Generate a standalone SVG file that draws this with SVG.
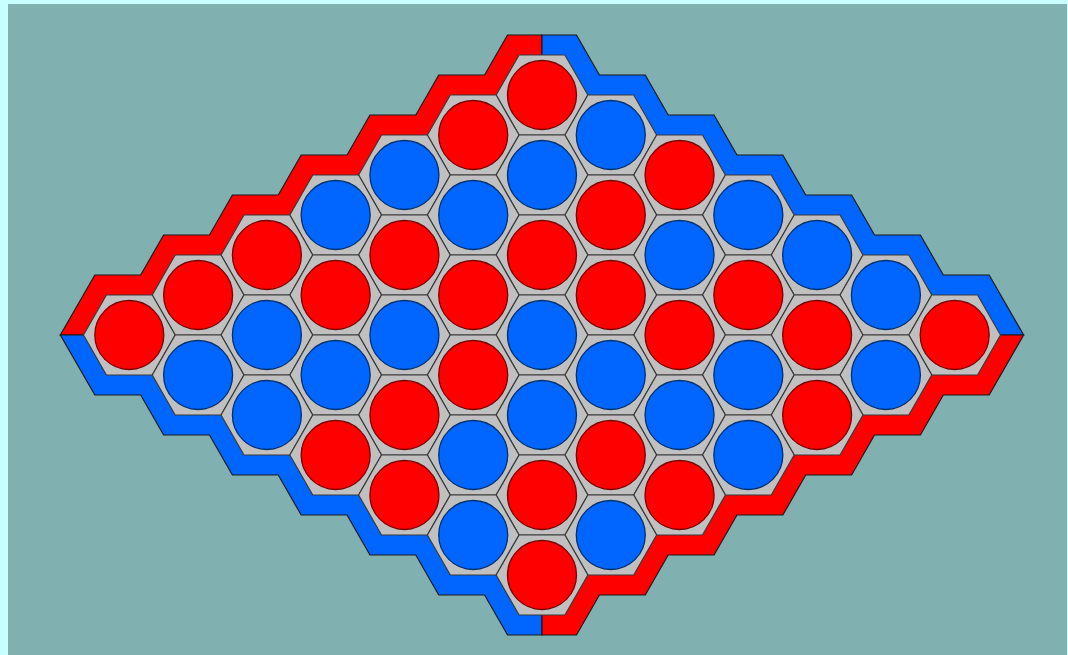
<svg xmlns="http://www.w3.org/2000/svg" xmlns:xlink="http://www.w3.org/1999/xlink" width="1068" height="655" viewBox="0 0 1068 655">
<style>
.edge{stroke:#1a1a1a;stroke-width:1.2;stroke-linejoin:miter}
.hex{fill:#c0c0c0;stroke:#3a3a3a;stroke-width:1.2}
.r{fill:#ff0000;stroke:#7a0000;stroke-width:1.3}
.b{fill:#0066ff;stroke:#00306e;stroke-width:1.3}
</style>
<defs>
<polygon id="quad" points="542,335 60.38,335 94.84,275 140.70,275 163.62,235 209.48,235 232.40,195 278.26,195 301.18,155 347.04,155 369.96,115 415.82,115 438.74,75 484.60,75 507.52,35 542,35"/>
<polygon id="hex" class="hex" points="-45.85,0 -22.93,-40 22.93,-40 45.85,0 22.93,40 -22.93,40"/>
</defs>
<rect x="0" y="0" width="1068" height="655" fill="#c8ffff"/>
<rect x="8" y="4" width="1059" height="651" fill="#80b0b0"/>
<g id="border">
<use href="#quad" class="edge" fill="#ff0000"/>
<use href="#quad" class="edge" fill="#0066ff" transform="translate(1084,0) scale(-1,1)"/>
<use href="#quad" class="edge" fill="#0066ff" transform="translate(0,670) scale(1,-1)"/>
<use href="#quad" class="edge" fill="#ff0000" transform="translate(1084,670) scale(-1,-1)"/>
</g>
<g id="cells">
<g id="c0-0"><use href="#hex" x="542" y="95"/><circle class="r" cx="542" cy="95" r="34.5"/></g>

<g id="c1-0"><use href="#hex" x="473.22" y="135"/><circle class="r" cx="473.22" cy="135" r="34.5"/></g>
<g id="c0-1"><use href="#hex" x="610.78" y="135"/><circle class="b" cx="610.78" cy="135" r="34.5"/></g>

<g id="c2-0"><use href="#hex" x="404.44" y="175"/><circle class="b" cx="404.44" cy="175" r="34.5"/></g>
<g id="c1-1"><use href="#hex" x="542" y="175"/><circle class="b" cx="542" cy="175" r="34.5"/></g>
<g id="c0-2"><use href="#hex" x="679.56" y="175"/><circle class="r" cx="679.56" cy="175" r="34.5"/></g>

<g id="c3-0"><use href="#hex" x="335.66" y="215"/><circle class="b" cx="335.66" cy="215" r="34.5"/></g>
<g id="c2-1"><use href="#hex" x="473.22" y="215"/><circle class="b" cx="473.22" cy="215" r="34.5"/></g>
<g id="c1-2"><use href="#hex" x="610.78" y="215"/><circle class="r" cx="610.78" cy="215" r="34.5"/></g>
<g id="c0-3"><use href="#hex" x="748.34" y="215"/><circle class="b" cx="748.34" cy="215" r="34.5"/></g>

<g id="c4-0"><use href="#hex" x="266.88" y="255"/><circle class="r" cx="266.88" cy="255" r="34.5"/></g>
<g id="c3-1"><use href="#hex" x="404.44" y="255"/><circle class="r" cx="404.44" cy="255" r="34.5"/></g>
<g id="c2-2"><use href="#hex" x="542" y="255"/><circle class="r" cx="542" cy="255" r="34.5"/></g>
<g id="c1-3"><use href="#hex" x="679.56" y="255"/><circle class="b" cx="679.56" cy="255" r="34.5"/></g>
<g id="c0-4"><use href="#hex" x="817.12" y="255"/><circle class="b" cx="817.12" cy="255" r="34.5"/></g>

<g id="c5-0"><use href="#hex" x="198.10" y="295"/><circle class="r" cx="198.10" cy="295" r="34.5"/></g>
<g id="c4-1"><use href="#hex" x="335.66" y="295"/><circle class="r" cx="335.66" cy="295" r="34.5"/></g>
<g id="c3-2"><use href="#hex" x="473.22" y="295"/><circle class="r" cx="473.22" cy="295" r="34.5"/></g>
<g id="c2-3"><use href="#hex" x="610.78" y="295"/><circle class="r" cx="610.78" cy="295" r="34.5"/></g>
<g id="c1-4"><use href="#hex" x="748.34" y="295"/><circle class="r" cx="748.34" cy="295" r="34.5"/></g>
<g id="c0-5"><use href="#hex" x="885.90" y="295"/><circle class="b" cx="885.90" cy="295" r="34.5"/></g>

<g id="c6-0"><use href="#hex" x="129.32" y="335"/><circle class="r" cx="129.32" cy="335" r="34.5"/></g>
<g id="c5-1"><use href="#hex" x="266.88" y="335"/><circle class="b" cx="266.88" cy="335" r="34.5"/></g>
<g id="c4-2"><use href="#hex" x="404.44" y="335"/><circle class="b" cx="404.44" cy="335" r="34.5"/></g>
<g id="c3-3"><use href="#hex" x="542" y="335"/><circle class="b" cx="542" cy="335" r="34.5"/></g>
<g id="c2-4"><use href="#hex" x="679.56" y="335"/><circle class="r" cx="679.56" cy="335" r="34.5"/></g>
<g id="c1-5"><use href="#hex" x="817.12" y="335"/><circle class="r" cx="817.12" cy="335" r="34.5"/></g>
<g id="c0-6"><use href="#hex" x="954.68" y="335"/><circle class="r" cx="954.68" cy="335" r="34.5"/></g>

<g id="c6-1"><use href="#hex" x="198.10" y="375"/><circle class="b" cx="198.10" cy="375" r="34.5"/></g>
<g id="c5-2"><use href="#hex" x="335.66" y="375"/><circle class="b" cx="335.66" cy="375" r="34.5"/></g>
<g id="c4-3"><use href="#hex" x="473.22" y="375"/><circle class="r" cx="473.22" cy="375" r="34.5"/></g>
<g id="c3-4"><use href="#hex" x="610.78" y="375"/><circle class="b" cx="610.78" cy="375" r="34.5"/></g>
<g id="c2-5"><use href="#hex" x="748.34" y="375"/><circle class="b" cx="748.34" cy="375" r="34.5"/></g>
<g id="c1-6"><use href="#hex" x="885.90" y="375"/><circle class="b" cx="885.90" cy="375" r="34.5"/></g>

<g id="c6-2"><use href="#hex" x="266.88" y="415"/><circle class="b" cx="266.88" cy="415" r="34.5"/></g>
<g id="c5-3"><use href="#hex" x="404.44" y="415"/><circle class="r" cx="404.44" cy="415" r="34.5"/></g>
<g id="c4-4"><use href="#hex" x="542" y="415"/><circle class="b" cx="542" cy="415" r="34.5"/></g>
<g id="c3-5"><use href="#hex" x="679.56" y="415"/><circle class="b" cx="679.56" cy="415" r="34.5"/></g>
<g id="c2-6"><use href="#hex" x="817.12" y="415"/><circle class="r" cx="817.12" cy="415" r="34.5"/></g>

<g id="c6-3"><use href="#hex" x="335.66" y="455"/><circle class="r" cx="335.66" cy="455" r="34.5"/></g>
<g id="c5-4"><use href="#hex" x="473.22" y="455"/><circle class="b" cx="473.22" cy="455" r="34.5"/></g>
<g id="c4-5"><use href="#hex" x="610.78" y="455"/><circle class="r" cx="610.78" cy="455" r="34.5"/></g>
<g id="c3-6"><use href="#hex" x="748.34" y="455"/><circle class="b" cx="748.34" cy="455" r="34.5"/></g>

<g id="c6-4"><use href="#hex" x="404.44" y="495"/><circle class="r" cx="404.44" cy="495" r="34.5"/></g>
<g id="c5-5"><use href="#hex" x="542" y="495"/><circle class="r" cx="542" cy="495" r="34.5"/></g>
<g id="c4-6"><use href="#hex" x="679.56" y="495"/><circle class="r" cx="679.56" cy="495" r="34.5"/></g>

<g id="c6-5"><use href="#hex" x="473.22" y="535"/><circle class="b" cx="473.22" cy="535" r="34.5"/></g>
<g id="c5-6"><use href="#hex" x="610.78" y="535"/><circle class="b" cx="610.78" cy="535" r="34.5"/></g>

<g id="c6-6"><use href="#hex" x="542" y="575"/><circle class="r" cx="542" cy="575" r="34.5"/></g>
</g>
</svg>
